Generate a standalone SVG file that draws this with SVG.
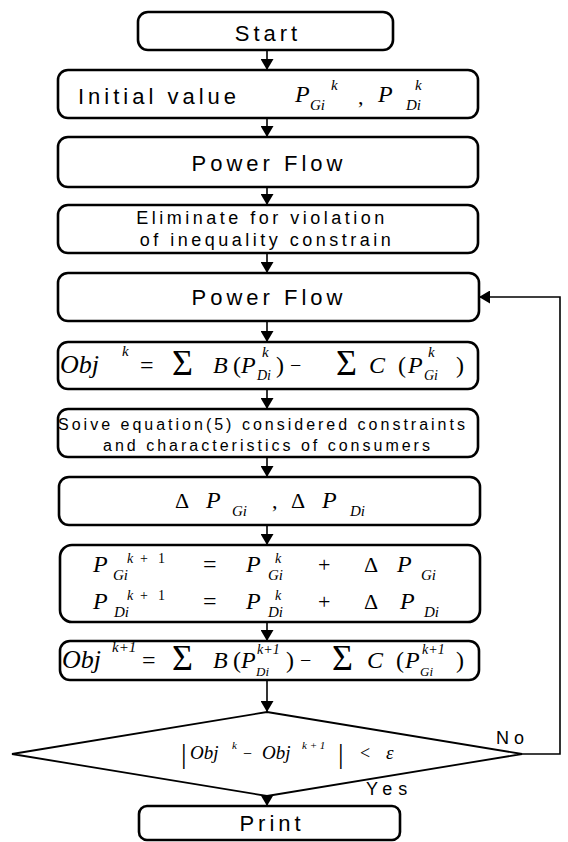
<svg xmlns="http://www.w3.org/2000/svg" width="568" height="842" viewBox="0 0 568 842">
<style>
.box{fill:#fff;stroke:#000;stroke-width:2.6}
.dia{fill:#fff;stroke:#000;stroke-width:1.8}
.ln{fill:none;stroke:#000;stroke-width:1.6}
.t{font-family:"Liberation Sans",Arial,sans-serif;font-size:22px;letter-spacing:4px;fill:#000}
.t2{font-family:"Liberation Sans",Arial,sans-serif;font-size:18px;letter-spacing:3.5px;fill:#000}
.t3{font-family:"Liberation Sans",Arial,sans-serif;font-size:16px;letter-spacing:3px;fill:#000}
.t4{font-family:"Liberation Sans",Arial,sans-serif;font-size:18px;letter-spacing:6px;fill:#000}
.m{font-family:"Liberation Serif","Times New Roman",serif;font-style:italic;fill:#000}
.u{font-family:"Liberation Serif","Times New Roman",serif;fill:#000}
.f11{font-size:11px}
.f12{font-size:12px}
.f13{font-size:13px}
.f14{font-size:14px}
.f15{font-size:15px}
.f16{font-size:16px}
.f18{font-size:18px}
.f19{font-size:19px}
.f20{font-size:20px}
.f22{font-size:22px}
.f24{font-size:24px}
.f26{font-size:26px}
.f28{font-size:28px}
.f36{font-size:36px}
</style>
<defs>
<marker id="ah" markerWidth="11" markerHeight="13" refX="11" refY="6.5" orient="auto" markerUnits="userSpaceOnUse">
<path d="M0,0 L11,6.5 L0,13 Z" fill="#000"/>
</marker>
</defs>
<rect width="568" height="842" fill="#fff"/>

<g id="connectors">
<line class="ln" x1="267" y1="50" x2="267" y2="70" marker-end="url(#ah)"/>
<line class="ln" x1="267" y1="118" x2="267" y2="137" marker-end="url(#ah)"/>
<line class="ln" x1="267" y1="187" x2="267" y2="205" marker-end="url(#ah)"/>
<line class="ln" x1="267" y1="253" x2="267" y2="273" marker-end="url(#ah)"/>
<line class="ln" x1="267" y1="321" x2="267" y2="342" marker-end="url(#ah)"/>
<line class="ln" x1="267" y1="389" x2="267" y2="409" marker-end="url(#ah)"/>
<line class="ln" x1="267" y1="457" x2="267" y2="477" marker-end="url(#ah)"/>
<line class="ln" x1="267" y1="525" x2="267" y2="545" marker-end="url(#ah)"/>
<line class="ln" x1="267" y1="622" x2="267" y2="641" marker-end="url(#ah)"/>
<line class="ln" x1="267" y1="680" x2="267" y2="712" marker-end="url(#ah)"/>
<line class="ln" x1="267" y1="796" x2="267" y2="806" marker-end="url(#ah)"/>
<polyline class="ln" points="522,754 560,754 560,297 479,297" stroke-width="1.3" marker-end="url(#ah)"/>
<text class="t4" x="496" y="744" style="letter-spacing:5px">No</text>
<text class="t4" x="366" y="795">Yes</text>
</g>

<g id="start">
<rect class="box" x="138" y="12" width="255" height="38" rx="10"/>
<text class="t" x="268" y="41" text-anchor="middle">Start</text>
</g>

<g id="initial">
<rect class="box" x="58" y="70" width="420" height="48" rx="10"/>
<text class="t" x="78" y="104">Initial value</text>
<text class="m f24" x="295" y="102">P</text>
<text class="m f15" x="310" y="110">Gi</text>
<text class="m f15" x="331" y="90">k</text>
<text class="u f22" x="358" y="104">,</text>
<text class="m f24" x="378" y="102">P</text>
<text class="m f15" x="406" y="110">Di</text>
<text class="m f15" x="415" y="90">k</text>
</g>

<g id="powerflow1">
<rect class="box" x="58" y="137" width="420" height="50" rx="10"/>
<text class="t" x="269" y="171" text-anchor="middle">Power Flow</text>
</g>

<g id="eliminate">
<rect class="box" x="58" y="205" width="420" height="48" rx="10"/>
<text class="t2" x="262" y="224" text-anchor="middle">Eliminate for violation</text>
<text class="t2" x="267" y="246" text-anchor="middle">of inequality constrain</text>
</g>

<g id="powerflow2">
<rect class="box" x="58" y="273" width="421" height="48" rx="10"/>
<text class="t" x="269" y="305" text-anchor="middle">Power Flow</text>
</g>

<g id="objk">
<rect class="box" x="58" y="342" width="420" height="47" rx="10"/>
<text class="m f26" x="60" y="373">Obj</text>
<text class="m f15" x="122" y="356">k</text>
<text class="u f24" x="140" y="373">=</text>
<text class="u f36" x="172" y="375">Σ</text>
<text class="m f24" x="213" y="373">B</text>
<text class="u f24" x="233" y="373">(</text>
<text class="m f24" x="241" y="373">P</text>
<text class="m f14" x="257" y="380">Di</text>
<text class="m f15" x="262" y="357">k</text>
<text class="u f24" x="276" y="373">)</text>
<text class="u f20" x="290" y="372">−</text>
<text class="u f36" x="336" y="375">Σ</text>
<text class="m f24" x="369" y="373">C</text>
<text class="u f24" x="398" y="373">(</text>
<text class="m f24" x="408" y="373">P</text>
<text class="m f14" x="424" y="380">Gi</text>
<text class="m f15" x="428" y="357">k</text>
<text class="u f24" x="456" y="373">)</text>
</g>

<g id="solve">
<rect class="box" x="58" y="409" width="420" height="48" rx="10"/>
<text class="t3" x="263" y="430" text-anchor="middle">Soive equation(5) considered constraints</text>
<text class="t3" x="268" y="451" text-anchor="middle">and characteristics of consumers</text>
</g>

<g id="delta">
<rect class="box" x="59" y="477" width="421" height="48" rx="10"/>
<text class="u f22" x="175" y="508">Δ</text>
<text class="m f24" x="206" y="508">P</text>
<text class="m f15" x="232" y="516">Gi</text>
<text class="u f22" x="272" y="508">,</text>
<text class="u f22" x="291" y="508">Δ</text>
<text class="m f24" x="322" y="508">P</text>
<text class="m f15" x="350" y="516">Di</text>
</g>

<g id="update">
<rect class="box" x="60" y="545" width="420" height="77" rx="12"/>
<text class="m f24" x="93" y="572">P</text>
<text class="m f15" x="113" y="580">Gi</text>
<text class="m f14" x="127" y="563">k</text>
<text class="u f14" x="140" y="563">+</text>
<text class="u f14" x="158" y="563">1</text>
<text class="u f24" x="203" y="572">=</text>
<text class="m f24" x="246" y="572">P</text>
<text class="m f15" x="268" y="580">Gi</text>
<text class="m f14" x="275" y="563">k</text>
<text class="u f22" x="318" y="572">+</text>
<text class="u f22" x="364" y="572">Δ</text>
<text class="m f24" x="397" y="572">P</text>
<text class="m f15" x="421" y="580">Gi</text>
<text class="m f24" x="93" y="609">P</text>
<text class="m f15" x="114" y="617">Di</text>
<text class="m f14" x="127" y="600">k</text>
<text class="u f14" x="140" y="600">+</text>
<text class="u f14" x="158" y="600">1</text>
<text class="u f24" x="203" y="609">=</text>
<text class="m f24" x="246" y="609">P</text>
<text class="m f15" x="268" y="617">Di</text>
<text class="m f14" x="275" y="600">k</text>
<text class="u f22" x="318" y="609">+</text>
<text class="u f22" x="364" y="609">Δ</text>
<text class="m f24" x="400" y="609">P</text>
<text class="m f15" x="424" y="617">Di</text>
</g>

<g id="objk1">
<rect class="box" x="60" y="641" width="419" height="39" rx="10"/>
<text class="m f26" x="62" y="668">Obj</text>
<text class="m f15" x="112" y="652">k+1</text>
<text class="u f24" x="142" y="668">=</text>
<text class="u f36" x="172" y="670">Σ</text>
<text class="m f24" x="213" y="668">B</text>
<text class="u f24" x="233" y="668">(</text>
<text class="m f24" x="241" y="668">P</text>
<text class="m f13" x="256" y="676">Di</text>
<text class="m f14" x="257" y="654">k+1</text>
<text class="u f24" x="286" y="668">)</text>
<text class="u f20" x="300" y="667">−</text>
<text class="u f36" x="332" y="670">Σ</text>
<text class="m f24" x="367" y="668">C</text>
<text class="u f24" x="396" y="668">(</text>
<text class="m f24" x="405" y="668">P</text>
<text class="m f13" x="420" y="676">Gi</text>
<text class="m f14" x="422" y="654">k+1</text>
<text class="u f24" x="456" y="668">)</text>
</g>

<g id="decision">
<polygon class="dia" points="267,712 522,754 267,796 12,754"/>
<text class="u f28" x="181" y="763">|</text>
<text class="m f19" x="190" y="759">Obj</text>
<text class="m f11" x="232" y="749">k</text>
<text class="u f16" x="243" y="759">−</text>
<text class="m f19" x="262" y="759">Obj</text>
<text class="m f11" x="302" y="749">k + 1</text>
<text class="u f28" x="338" y="763">|</text>
<text class="u f18" x="360" y="759">&lt;</text>
<text class="m f19" x="386" y="759">ε</text>
</g>

<g id="print">
<rect class="box" x="139" y="806" width="261" height="34" rx="8"/>
<text class="t" x="272" y="831" text-anchor="middle">Print</text>
</g>
</svg>
